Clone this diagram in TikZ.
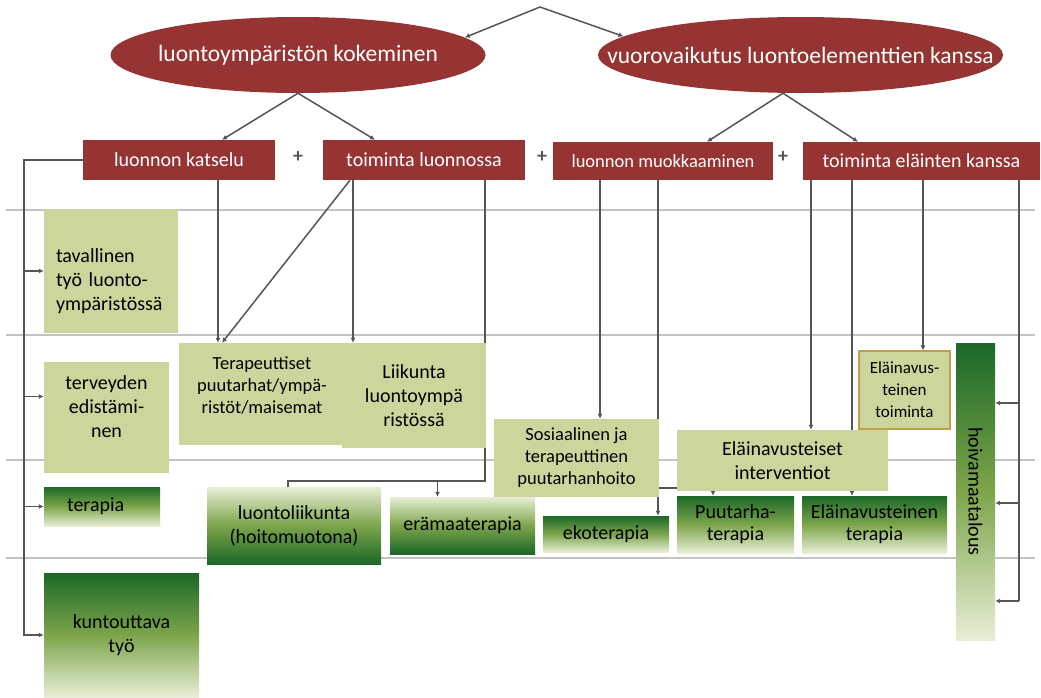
\documentclass[tikz,border=0pt]{standalone}
\usepackage{fontspec}
\setmainfont{Carlito}
\usepackage{tikz}
\usetikzlibrary{arrows.meta,shapes.geometric,backgrounds,calc}

\definecolor{redbg}{RGB}{149,52,50}
\definecolor{lgreen}{RGB}{204,214,156}
\definecolor{gdark}{RGB}{27,104,40}
\definecolor{gmid}{RGB}{125,165,75}
\definecolor{glight}{RGB}{232,238,214}
\definecolor{linegray}{RGB}{85,85,85}
\definecolor{gridgray}{RGB}{195,195,195}
\definecolor{goldline}{RGB}{196,158,72}

\tikzset{
  boxsize/.style 2 args={minimum width=#1pt, minimum height=#2pt},
  redell/.style={ellipse, fill=redbg, inner sep=0pt},
  redbox/.style={rectangle, fill=redbg, text=white, inner sep=0pt, font=\fontsize{20}{24}\selectfont},
  lgbox/.style={rectangle, fill=lgreen, inner sep=0pt, align=center, font=\fontsize{20}{24}\selectfont},
  gbox/.style={rectangle, inner sep=0pt, align=center, top color=gdark, bottom color=glight, middle color=gmid, font=\fontsize{20}{24}\selectfont},
  gboxup/.style={rectangle, inner sep=0pt, align=center, top color=glight, bottom color=gdark, middle color=gmid, font=\fontsize{20}{24}\selectfont},
  conn/.style={draw=linegray, line width=1.5pt},
  arr/.style={conn, -{Latex[length=5pt,width=5pt]}},
  gridline/.style={draw=gridgray, line width=1.5pt},
  plus/.style={font=\fontsize{20}{24}\selectfont\bfseries, text=linegray}
}

\begin{document}
\begin{tikzpicture}[x=1pt,y=-1pt]
\useasboundingbox (0,0) rectangle (1041,697);

\node[redell, boxsize={375}{76}, label={[text=white,font=\fontsize{23.5}{28}\selectfont]center:luontoympäristön kokeminen}] (e1) at (298,55) {};
\node[redell, boxsize={405}{76}, label={[text=white,font=\fontsize{23.5}{28}\selectfont]center:vuorovaikutus luontoelementtien kanssa}] (e2) at (800.5,55) {};

\node[redbox, boxsize={192}{40}] (kat) at (179,160) {luonnon katselu};
\node[plus] (p1) at (298,157) {+};
\node[redbox, boxsize={202}{40}] (tl) at (424,160) {toiminta luonnossa};
\node[plus] (p2) at (542,157) {+};
\node[redbox, boxsize={220}{38}, font=\fontsize{18.5}{22}\selectfont] (muo) at (663,161) {luonnon muokkaaminen};
\node[plus] (p3) at (783,157) {+};
\node[redbox, boxsize={237}{38}] (elk) at (921.5,161) {toiminta eläinten kanssa};

\node[lgbox, boxsize={134}{124}, label={[yshift=-10pt,align=left,text width=110pt,font=\fontsize{20}{24}\selectfont]center:{tavallinen\\työ luonto-\\ympäristössä}}] (tav) at (111,271) {};
\node[lgbox, boxsize={125}{111}, label={[yshift=11pt,align=center,font=\fontsize{20}{24}\selectfont]center:{terveyden\\edistämi-\\nen}}] (ter) at (106.5,417.5) {};
\node[lgbox, boxsize={166}{102}, label={[yshift=9pt,align=center,font=\fontsize{18.5}{22}\selectfont]center:{Terapeuttiset\\puutarhat/ympä-\\ristöt/maisemat}}] (terp) at (262,394) {};
\node[lgbox, boxsize={144}{105}] (liik) at (414,395.5) {Liikunta\\luontoympä\\ristössä};
\node[lgbox, boxsize={165}{78}, font=\fontsize{18.5}{22}\selectfont] (sos) at (576.5,458) {Sosiaalinen ja\\terapeuttinen\\puutarhanhoito};
\node[lgbox, boxsize={211}{61}] (int) at (782.5,460.5) {Eläinavusteiset\\interventiot};
\node[lgbox, boxsize={91}{78}, draw=goldline, line width=1.2pt, font=\fontsize{17}{22}\selectfont] (toim) at (904.5,390) {Eläinavus-\\teinen\\toiminta};

\node[gbox, boxsize={116}{39}, text width=70pt, align=left] (terap) at (102,506.5) {terapia};
\node[gboxup, boxsize={174}{77}] (lol) at (294,525.5) {luontoliikunta\\(hoitomuotona)};
\node[gboxup, boxsize={145}{57}] (era) at (462.5,525.5) {erämaaterapia};
\node[gbox, boxsize={126}{36}] (eko) at (606,534) {ekoterapia};
\node[gbox, boxsize={117}{57}, font=\fontsize{20}{22}\selectfont] (put) at (735.5,524.5) {Puutarha-\\terapia};
\node[gbox, boxsize={145}{57}, font=\fontsize{20}{22}\selectfont] (eat) at (874.5,524.5) {Eläinavusteinen\\terapia};
\node[gbox, boxsize={155}{124}] (kunt) at (121.5,635) {kuntouttava\\työ};
\node[gbox, boxsize={39}{297}, label={[rotate=-90,font=\fontsize{20}{24}\selectfont]center:hoivamaatalous}] (hoiva) at (975.5,491.5) {};

\begin{scope}[on background layer]
\foreach \gy in {210,335,460,558}
  \draw[gridline] (6,\gy) -- (1035,\gy);

\coordinate (pk) at (540,7);
\draw[conn, {Latex[length=5pt,width=5pt]}-{Latex[length=5pt,width=5pt]}] (e1.6) -- (pk) -- (e2.174);
\draw[arr] (e1.south) -- ([xshift=43]kat.north);
\draw[arr] (e1.south) -- ([xshift=-49]tl.north);
\coordinate (e2b) at ([xshift=-17.5]e2.south);
\draw[arr] (e2b) -- ([xshift=44]muo.north);
\draw[arr] (e2b) -- ([xshift=-63.5]elk.north);

\coordinate (lb) at (24,160);
\draw[arr] (kat.west) -- (lb) |- (kunt.west);
\draw[arr] (lb |- tav.west) -- (tav.west);
\coordinate (terin) at ([yshift=21]ter.west);
\draw[arr] (lb |- terin) -- (terin);
\draw[arr] (lb |- terap.west) -- (terap.west);

\coordinate (k1) at ([xshift=39]kat.south);
\draw[arr] (k1) -- (k1 |- terp.north);

\coordinate (t1) at ([xshift=-74]tl.south);
\coordinate (t2) at ([xshift=-71]tl.south);
\coordinate (t3) at ([xshift=61]tl.south);
\draw[arr] (t1) -- ([xshift=-40]terp.north);
\draw[arr] (t2) -- (t2 |- liik.north);
\coordinate (j1) at (485,481);
\draw[conn] (t3) -- (j1) -| ([xshift=-6]lol.north);
\coordinate (er1) at ([xshift=-25]era.north);
\draw[arr] (er1 |- j1) -- (er1);

\coordinate (m1) at ([xshift=-63]muo.south);
\coordinate (m2) at ([xshift=-5]muo.south);
\draw[arr] (m1) -- (m1 |- sos.north);
\draw[arr] (m2) -- (m2 |- eko.north);
\coordinate (s1) at ([yshift=-30]sos.east);
\draw[conn] (s1) -- (s1 -| int.west);

\coordinate (a1) at ([xshift=-110.5]elk.south);
\coordinate (a2) at ([xshift=-69.5]elk.south);
\coordinate (a3) at ([xshift=1.5]elk.south);
\coordinate (rb) at ([xshift=97.5]elk.south);
\draw[arr] (a1) -- (a1 |- int.north);
\draw[arr] (a2) -- (a2 |- eat.north);
\draw[arr] (a3) -- (a3 |- toim.north);
\coordinate (i1) at ([xshift=-69.5]int.south);
\draw[arr] (i1) -- (i1 |- put.north);

\coordinate (h1) at ([yshift=88.5]hoiva.east);
\coordinate (h2) at ([yshift=-11.5]hoiva.east);
\coordinate (h3) at ([yshift=-109.5]hoiva.east);
\draw[conn] (rb) -- (rb |- h3);
\foreach \h in {h1,h2,h3}
  \draw[arr] (rb |- \h) -- (\h);
\end{scope}
\end{tikzpicture}
\end{document}
